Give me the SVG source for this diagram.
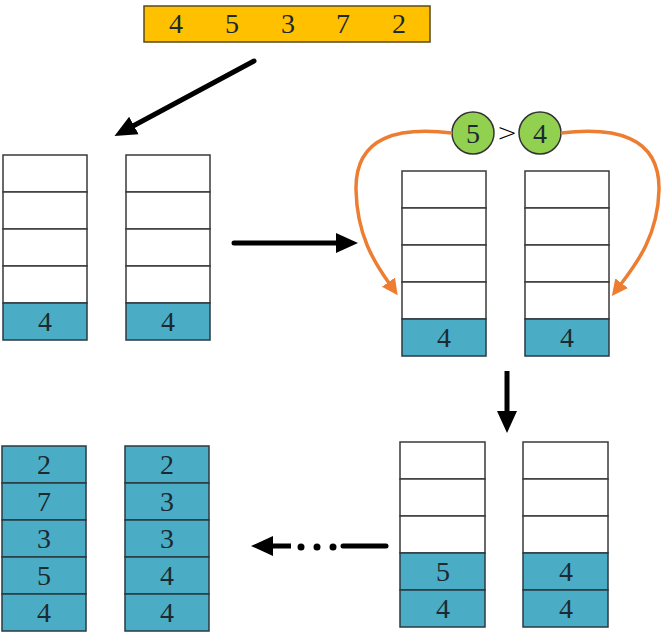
<svg xmlns="http://www.w3.org/2000/svg" width="667" height="639" viewBox="0 0 667 639">
<style>
.c{fill:#fff;stroke:#3a3a3a;stroke-width:1.5}
.f{fill:#4BACC6;stroke:#2a3a40;stroke-width:1.5}
.t{font-family:"Liberation Serif","DejaVu Serif",serif;font-size:28px;fill:#1a2a30;text-anchor:middle}
.a{fill:none;stroke:#000;stroke-width:5}
.o{fill:none;stroke:#ED7D31;stroke-width:3.5}
.g{fill:#92D050;stroke:#333;stroke-width:1.5}
</style>
<defs>
<marker id="ah" markerUnits="userSpaceOnUse" markerWidth="24" markerHeight="22" refX="1" refY="10" orient="auto" viewBox="0 0 24 20">
<path d="M0,0 L22,10 L0,20 z" fill="#000"/>
</marker>
<marker id="oh" markerUnits="userSpaceOnUse" markerWidth="18" markerHeight="18" refX="1" refY="8" orient="auto" viewBox="0 0 18 16">
<path d="M0,0 L16,8 L0,16 z" fill="#ED7D31"/>
</marker>
</defs>

<g id="input">
<rect x="144" y="6" width="286" height="36" fill="#FFC000" stroke="#5a4a1a" stroke-width="1.5"/>
<text class="t" x="176" y="33">4</text>
<text class="t" x="232" y="33">5</text>
<text class="t" x="288" y="33">3</text>
<text class="t" x="343" y="33">7</text>
<text class="t" x="399" y="33">2</text>
</g>

<g id="stackA1">
<rect class="c" x="3" y="155" width="84" height="37"/>
<rect class="c" x="3" y="192" width="84" height="37"/>
<rect class="c" x="3" y="229" width="84" height="37"/>
<rect class="c" x="3" y="266" width="84" height="37"/>
<rect class="f" x="3" y="303" width="84" height="37"/>
<text class="t" x="45" y="331">4</text>
</g>
<g id="stackA2">
<rect class="c" x="126" y="155" width="84" height="37"/>
<rect class="c" x="126" y="192" width="84" height="37"/>
<rect class="c" x="126" y="229" width="84" height="37"/>
<rect class="c" x="126" y="266" width="84" height="37"/>
<rect class="f" x="126" y="303" width="84" height="37"/>
<text class="t" x="168" y="331">4</text>
</g>

<g id="stackB1">
<rect class="c" x="402" y="171" width="84" height="37"/>
<rect class="c" x="402" y="208" width="84" height="37"/>
<rect class="c" x="402" y="245" width="84" height="37"/>
<rect class="c" x="402" y="282" width="84" height="37"/>
<rect class="f" x="402" y="319" width="84" height="37"/>
<text class="t" x="444" y="347">4</text>
</g>
<g id="stackB2">
<rect class="c" x="525" y="171" width="84" height="37"/>
<rect class="c" x="525" y="208" width="84" height="37"/>
<rect class="c" x="525" y="245" width="84" height="37"/>
<rect class="c" x="525" y="282" width="84" height="37"/>
<rect class="f" x="525" y="319" width="84" height="37"/>
<text class="t" x="567" y="347">4</text>
</g>

<g id="compare">
<circle class="g" cx="473" cy="133" r="21"/>
<text class="t" x="473" y="143">5</text>
<text x="507" y="141" font-family="'DejaVu Sans',sans-serif" font-size="24" font-weight="300" text-anchor="middle" fill="#000">&gt;</text>
<circle class="g" cx="540" cy="133" r="21"/>
<text class="t" x="540" y="143">4</text>
</g>

<g id="stackC1">
<rect class="c" x="400" y="442" width="85" height="37"/>
<rect class="c" x="400" y="479" width="85" height="37"/>
<rect class="c" x="400" y="516" width="85" height="37"/>
<rect class="f" x="400" y="553" width="85" height="37"/>
<rect class="f" x="400" y="590" width="85" height="37"/>
<text class="t" x="443" y="581">5</text>
<text class="t" x="443" y="618">4</text>
</g>
<g id="stackC2">
<rect class="c" x="523" y="442" width="85" height="37"/>
<rect class="c" x="523" y="479" width="85" height="37"/>
<rect class="c" x="523" y="516" width="85" height="37"/>
<rect class="f" x="523" y="553" width="85" height="37"/>
<rect class="f" x="523" y="590" width="85" height="37"/>
<text class="t" x="566" y="581">4</text>
<text class="t" x="566" y="618">4</text>
</g>

<g id="stackD1">
<rect class="f" x="2" y="446" width="84" height="37"/>
<rect class="f" x="2" y="483" width="84" height="37"/>
<rect class="f" x="2" y="520" width="84" height="37"/>
<rect class="f" x="2" y="557" width="84" height="37"/>
<rect class="f" x="2" y="594" width="84" height="37"/>
<text class="t" x="44" y="474">2</text>
<text class="t" x="44" y="511">7</text>
<text class="t" x="44" y="548">3</text>
<text class="t" x="44" y="585">5</text>
<text class="t" x="44" y="622">4</text>
</g>
<g id="stackD2">
<rect class="f" x="125" y="446" width="84" height="37"/>
<rect class="f" x="125" y="483" width="84" height="37"/>
<rect class="f" x="125" y="520" width="84" height="37"/>
<rect class="f" x="125" y="557" width="84" height="37"/>
<rect class="f" x="125" y="594" width="84" height="37"/>
<text class="t" x="167" y="474">2</text>
<text class="t" x="167" y="511">3</text>
<text class="t" x="167" y="548">3</text>
<text class="t" x="167" y="585">4</text>
<text class="t" x="167" y="622">4</text>
</g>

<g id="connectors">
<path class="a" d="M254,61 L133,126" stroke-linecap="round" marker-end="url(#ah)"/>
<path class="a" d="M234,243 L337,243" stroke-linecap="round" marker-end="url(#ah)"/>
<path class="a" d="M507,371 L507,412" marker-end="url(#ah)"/>
<path class="a" d="M386,546 L343,546" stroke-linecap="round"/>
<circle cx="333" cy="547" r="3.5" fill="#000"/>
<circle cx="317" cy="547" r="3.5" fill="#000"/>
<circle cx="301" cy="547" r="3.5" fill="#000"/>
<path class="a" d="M291,546 L272,546" marker-end="url(#ah)"/>
<path class="o" d="M452,133 C400,127 355,135 356,190 C357,235 374,262 389,283" marker-end="url(#oh)"/>
<path class="o" d="M561,133 C613,127 660,135 659,190 C658,235 637,263 621,284" marker-end="url(#oh)"/>
</g>
</svg>
